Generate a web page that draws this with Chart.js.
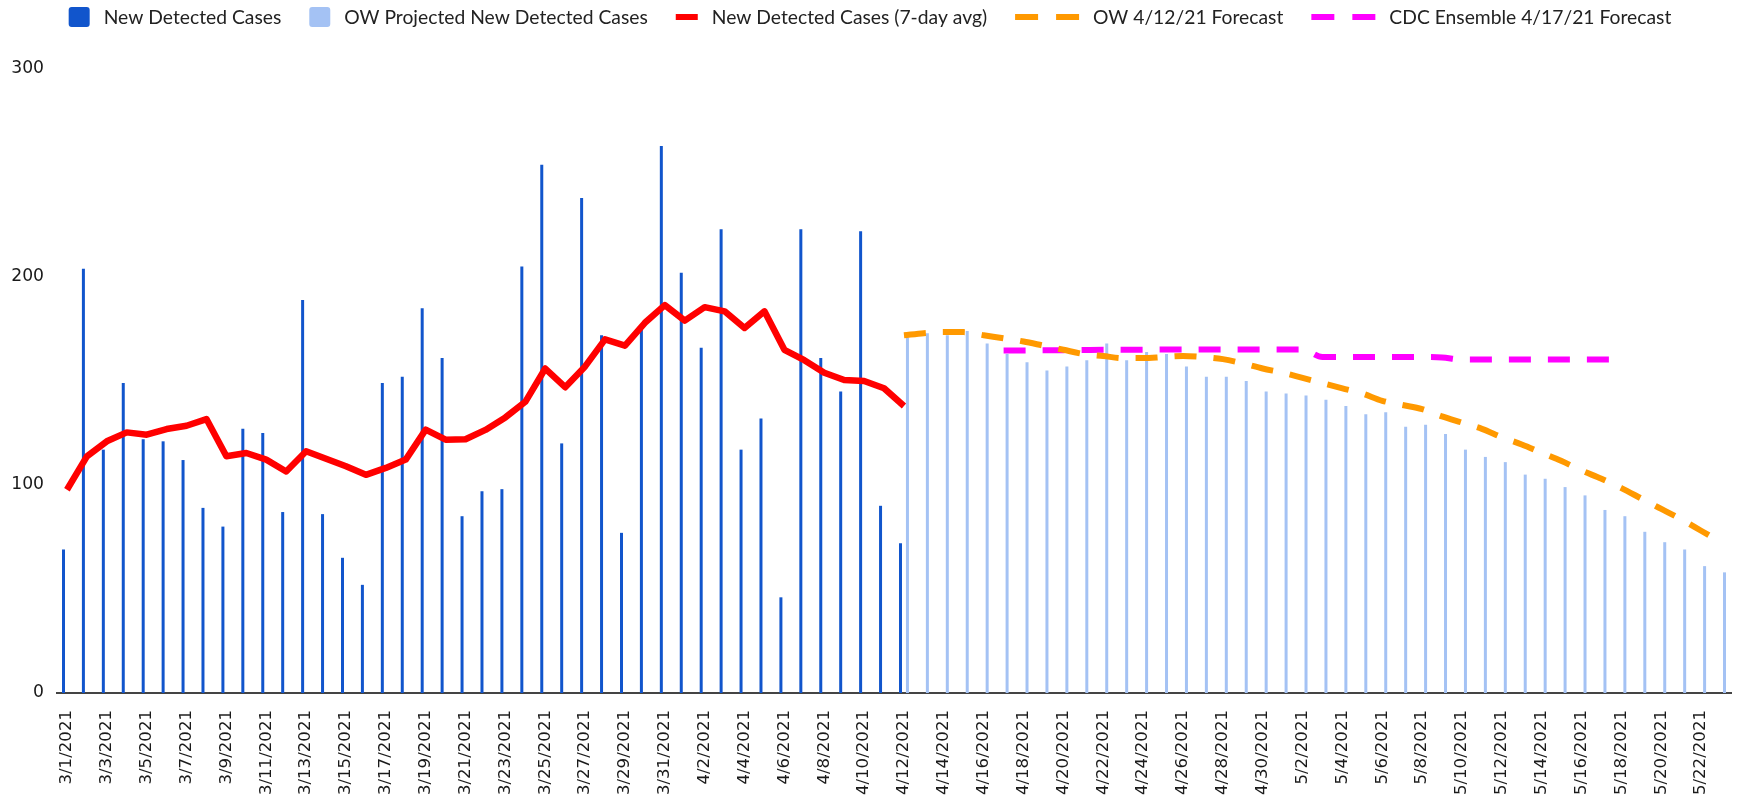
<!DOCTYPE html>
<html>
<head>
<meta charset="utf-8">
<script src="https://cdn.jsdelivr.net/npm/chart.js@4/dist/chart.umd.min.js"></script>
<style>
html,body{margin:0;padding:0;background:#ffffff;}
#wrap{width:1737px;height:799px;}
</style>
</head>
<body>
<div id="wrap"><canvas id="c" width="1737" height="799"></canvas></div>
<script>
const categories = [
  "3/1/2021","3/2/2021","3/3/2021","3/4/2021","3/5/2021","3/6/2021","3/7/2021","3/8/2021","3/9/2021","3/10/2021",
  "3/11/2021","3/12/2021","3/13/2021","3/14/2021","3/15/2021","3/16/2021","3/17/2021","3/18/2021","3/19/2021","3/20/2021",
  "3/21/2021","3/22/2021","3/23/2021","3/24/2021","3/25/2021","3/26/2021","3/27/2021","3/28/2021","3/29/2021","3/30/2021",
  "3/31/2021","4/1/2021","4/2/2021","4/3/2021","4/4/2021","4/5/2021","4/6/2021","4/7/2021","4/8/2021","4/9/2021",
  "4/10/2021","4/11/2021","4/12/2021","4/13/2021","4/14/2021","4/15/2021","4/16/2021","4/17/2021","4/18/2021","4/19/2021",
  "4/20/2021","4/21/2021","4/22/2021","4/23/2021","4/24/2021","4/25/2021","4/26/2021","4/27/2021","4/28/2021","4/29/2021",
  "4/30/2021","5/1/2021","5/2/2021","5/3/2021","5/4/2021","5/5/2021","5/6/2021","5/7/2021","5/8/2021","5/9/2021",
  "5/10/2021","5/11/2021","5/12/2021","5/13/2021","5/14/2021","5/15/2021","5/16/2021","5/17/2021","5/18/2021","5/19/2021",
  "5/20/2021","5/21/2021","5/22/2021","5/23/2021"
];

// New Detected Cases (3/1 .. 4/12)
const detectedStart = 0;
const detectedValues = [
  69,204,117,149,122,121,112,89,80,127,
  125,87,189,86,65,52,149,152,185,161,
  85,97,98,205,254,120,238,172,77,176,
  263,202,166,223,117,132,46,223,161,145,
  222,90,72
];

// OW Projected New Detected Cases (4/12 .. 5/23)
const projectedStart = 42;
const projectedValues = [
  171,173,172,174,168,163,159,155,157,160,
  168,160,164,163,157,152,152,150,145,144,
  143,141,138,134,135,128,129,124.5,117,113.5,
  111,105,103,99,95,88,85,77.5,72.5,69,
  61,58
];

// New Detected Cases (7-day avg) (3/1 .. 4/12)
const avgStart = 0;
const avgValues = [
  97.7,113.8,121,125.3,124.2,126.9,128.5,131.7,113.8,115.4,
  112.2,106.5,116.2,112.6,109,104.9,108.2,112.2,126.6,121.8,
  122,126.5,132.5,140,156,147,157,170,167,178,
  186.5,179,185.5,183.5,175.5,183.5,165,160,154,150.5,
  150,146.5,138
];

// OW 4/12/21 Forecast (4/12 .. 5/23)
const owStart = 42;
const owValues = [
  172,173,173.5,173.5,172,170.5,169,167,165,163,
  162,161,161,161.5,162,161.5,160.5,158.5,156,154,
  151.5,149,146.5,144,140.5,138.5,136.5,133,130,127,
  123,119.5,115.5,111.5,107,103,98.5,93.5,88.5,83.5,
  78,72.5
];

// CDC Ensemble 4/17/21 Forecast (4/17 .. 5/19)
const cdcStart = 47;
const cdcValues = [
  164.7,164.7,164.8,164.8,164.9,165,165,165,165.1,165.1,
  165.2,165.2,165.2,165.2,165.2,165.2,161.5,161.5,161.5,161.5,
  161.5,161.5,161.3,160.3,160.3,160.3,160.3,160.3,160.3,160.3,
  160.3,160.3
];

const yTicks = [0, 100, 200, 300];

function place(start, values) {
  return categories.map((_, i) => (i >= start && i < start + values.length) ? values[i - start] : null);
}

const topLegend = {
  id: 'topLegend',
  afterDraw(chart) {
    const ctx = chart.ctx;
    ctx.save();
    ctx.font = '19.3px Lato';
    ctx.textBaseline = 'middle';
    const items = chart.data.datasets.map(ds => ({
      label: ds.label,
      color: ds.type === 'bar' ? ds.backgroundColor : ds.borderColor,
      kind: ds.type === 'bar' ? 'box' : (ds.borderDash ? 'dash' : 'line')
    }));
    const symW = {box: 21, line: 22, dash: 64};
    const gapSym = 14, gapItem = 28;
    let total = 0;
    items.forEach((it, i) => {
      it.tw = ctx.measureText(it.label).width;
      total += symW[it.kind] + gapSym + it.tw + (i < items.length - 1 ? gapItem : 0);
    });
    let x = 870 - total / 2;
    const cy = 17;
    items.forEach(it => {
      ctx.fillStyle = it.color;
      if (it.kind === 'box') {
        ctx.beginPath();
        ctx.roundRect(x, cy - 10, 21, 20, 3);
        ctx.fill();
      } else if (it.kind === 'line') {
        ctx.fillRect(x, cy - 3, 22, 6);
      } else {
        ctx.fillRect(x, cy - 3, 23, 6);
        ctx.fillRect(x + 41, cy - 3, 23, 6);
      }
      x += symW[it.kind] + gapSym;
      ctx.fillStyle = '#222222';
      ctx.fillText(it.label, x, cy + 1);
      x += it.tw + gapItem;
    });
    ctx.restore();
  }
};

const tickFamily = "'DejaVu Sans', Verdana, sans-serif";

const ctx = document.getElementById('c').getContext('2d');
new Chart(ctx, {
  data: {
    labels: categories,
    datasets: [
      {
        type: 'bar', label: 'New Detected Cases', data: place(detectedStart, detectedValues),
        backgroundColor: '#1155cc', order: 2, categoryPercentage: 0.7, barPercentage: 0.43
      },
      {
        type: 'bar', label: 'OW Projected New Detected Cases', data: place(projectedStart, projectedValues),
        backgroundColor: '#a4c2f4', order: 2, categoryPercentage: 0.7, barPercentage: 0.43
      },
      {
        type: 'line', label: 'New Detected Cases (7-day avg)', data: place(avgStart, avgValues),
        borderColor: '#ff0000', backgroundColor: '#ff0000', borderWidth: 6.5, pointRadius: 0,
        tension: 0, borderJoinStyle: 'round', order: 1
      },
      {
        type: 'line', label: 'OW 4/12/21 Forecast', data: place(owStart, owValues),
        borderColor: '#ff9900', backgroundColor: '#ff9900', borderWidth: 6, borderDash: [22, 17],
        pointRadius: 0, cubicInterpolationMode: 'monotone', order: 0
      },
      {
        type: 'line', label: 'CDC Ensemble 4/17/21 Forecast', data: place(cdcStart, cdcValues),
        borderColor: '#ff00ff', backgroundColor: '#ff00ff', borderWidth: 6, borderDash: [22, 17],
        pointRadius: 0, cubicInterpolationMode: 'monotone', order: 0
      }
    ]
  },
  options: {
    responsive: false,
    animation: false,
    devicePixelRatio: 1,
    layout: {padding: {top: 69, right: 6, left: 0, bottom: 0}},
    plugins: {legend: {display: false}, tooltip: {enabled: false}},
    scales: {
      x: {
        grid: {display: false, drawTicks: false},
        border: {display: true, color: '#444444', width: 2},
        ticks: {
          autoSkip: false, maxRotation: 90, minRotation: 90, padding: 17,
          font: {family: tickFamily, size: 16.6}, color: '#1a1a1a',
          callback: (v, i) => (i % 2 === 0 ? categories[i] : null)
        },
        afterFit: s => { s.height = 106; s.paddingLeft = 0; s.paddingRight = 0; }
      },
      y: {
        min: 0, max: 300,
        afterBuildTicks: s => { s.ticks = yTicks.map(v => ({value: v})); },
        grid: {display: false, drawTicks: false},
        border: {display: false},
        ticks: {padding: 13, font: {family: tickFamily, size: 17.2}, color: '#1a1a1a'},
        afterFit: s => { s.width = 57; s.paddingTop = 0; s.paddingBottom = 0; }
      }
    }
  },
  plugins: [topLegend]
});
</script>
</body>
</html>
